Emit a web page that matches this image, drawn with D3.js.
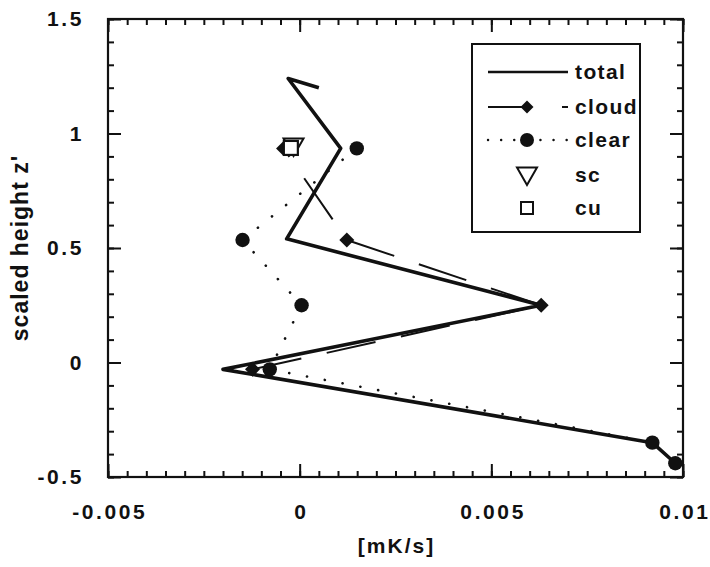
<!DOCTYPE html>
<html><head><meta charset="utf-8">
<script src="https://cdn.jsdelivr.net/npm/d3@7"></script>
<style>
body{margin:0;background:#fff;}
text{font-family:"Liberation Sans",Arial,Helvetica,sans-serif;font-weight:bold;fill:#111;}
</style></head>
<body><svg id="c" width="710" height="567"></svg>
<script>
// ---- data ----
const totalX = [0.0005, -0.0003, 0.00107, -0.00034, 0.0063, -0.0020, 0.0092, 0.0098];
const totalZ = [1.20, 1.24, 0.935, 0.54, 0.25, -0.03, -0.35, -0.44];
const cloudX = [-0.00042, 0.00123, 0.0063, -0.00123];
const cloudZ = [0.935, 0.535, 0.25, -0.03];
const clearX = [0.00149, -0.00149, 0.00005, -0.00078, 0.0092, 0.0098];
const clearZ = [0.935, 0.535, 0.25, -0.03, -0.35, -0.44];
const scX = [-0.00016];
const scZ = [0.945];
const cuX = [-0.00023];
const cuZ = [0.937];
const xTicks = [-0.005, 0, 0.005, 0.01];
const xTickLabels = ["-0.005", "0", "0.005", "0.01"];
const yTicks = [-0.5, 0, 0.5, 1, 1.5];
const yTickLabels = ["-0.5", "0", "0.5", "1", "1.5"];
const legendLabels = ["total", "cloud", "clear", "sc", "cu"];

const svg = d3.select("#c");
const L = 108, R = 683, T = 19, B = 477;
const x = d3.scaleLinear().domain([-0.005, 0.01]).range([L, R]);
const y = d3.scaleLinear().domain([-0.5, 1.5]).range([B, T]);

const xMinor = d3.range(-0.005, 0.01 + 1e-9, 0.0005).map(v => +v.toFixed(5));
const yMinor = d3.range(-0.5, 1.5 + 1e-9, 0.1).map(v => +v.toFixed(2));

function axisG(gen, tr) {
  const g = svg.append("g").attr("transform", tr).call(gen);
  g.select(".domain").remove();
  g.selectAll("line").attr("stroke", "#111").attr("stroke-width", 2);
  return g;
}
// minor ticks
axisG(d3.axisBottom(x).tickValues(xMinor).tickSize(-6).tickFormat(""), `translate(0,${B})`);
axisG(d3.axisTop(x).tickValues(xMinor).tickSize(-6).tickFormat(""), `translate(0,${T})`);
axisG(d3.axisLeft(y).tickValues(yMinor).tickSize(-6).tickFormat(""), `translate(${L},0)`);
axisG(d3.axisRight(y).tickValues(yMinor).tickSize(-6).tickFormat(""), `translate(${R},0)`);
// major ticks
const gxb = axisG(d3.axisBottom(x).tickValues(xTicks).tickSize(-13).tickPadding(27)
  .tickFormat((d, i) => xTickLabels[i]), `translate(0,${B})`);
axisG(d3.axisTop(x).tickValues(xTicks).tickSize(-13).tickFormat(""), `translate(0,${T})`);
const gyl = axisG(d3.axisLeft(y).tickValues(yTicks).tickSize(-13).tickPadding(24)
  .tickFormat((d, i) => yTickLabels[i]), `translate(${L},0)`);
axisG(d3.axisRight(y).tickValues(yTicks).tickSize(-13).tickFormat(""), `translate(${R},0)`);
[gxb, gyl].forEach(g => g.selectAll("text").attr("font-size", 21).attr("letter-spacing", 2.6)
  .style("font-family", "'Liberation Sans',Arial,sans-serif").attr("fill", "#111"));
gxb.selectAll("text").attr("dx", 1.3);

svg.append("rect").attr("x", L).attr("y", T).attr("width", R - L).attr("height", B - T)
  .attr("fill", "none").attr("stroke", "#111").attr("stroke-width", 2.2);

// axis titles
svg.append("text").attr("x", (L + R) / 2 + 1).attr("y", 553).attr("text-anchor", "middle")
  .attr("font-size", 21).attr("letter-spacing", 2).text("[mK/s]");
svg.append("text").attr("transform", `translate(28,${(T + B) / 2}) rotate(-90)`)
  .attr("text-anchor", "middle").attr("font-size", 23).attr("letter-spacing", 1).text("scaled height z'");

const line = d3.line().x(d => x(d[0])).y(d => y(d[1]));
const zip = (a, b) => a.map((v, i) => [v, b[i]]);

// clear (dotted)
svg.append("path").attr("d", line(zip(clearX, clearZ))).attr("fill", "none")
  .attr("stroke", "#111").attr("stroke-width", 2.6).attr("stroke-linecap", "round")
  .attr("stroke-dasharray", "0.1,18");
// cloud (long dashed), drawn segment by segment: [from index, to index, dash offset]
const cloudSegs = [[3, 2, 0], [1, 2, 0], [1, 0, 51]];
cloudSegs.forEach(([a, b, off]) => {
  svg.append("path").attr("d", line([[cloudX[a], cloudZ[a]], [cloudX[b], cloudZ[b]]]))
    .attr("fill", "none").attr("stroke", "#111").attr("stroke-width", 2)
    .attr("stroke-dasharray", "50,26").attr("stroke-dashoffset", off);
});
// total
svg.append("path").attr("d", line(zip(totalX, totalZ))).attr("fill", "none")
  .attr("stroke", "#111").attr("stroke-width", 3.6).attr("stroke-linejoin", "round");

const diamond = s => `M0,${-s}L${s},0L0,${s}L${-s},0Z`;
svg.selectAll(".dia").data(zip(cloudX, cloudZ)).join("path")
  .attr("transform", d => `translate(${x(d[0])},${y(d[1])})`).attr("d", diamond(7.5)).attr("fill", "#111");
svg.selectAll(".clr").data(zip(clearX, clearZ)).join("circle")
  .attr("cx", d => x(d[0])).attr("cy", d => y(d[1])).attr("r", 7.2).attr("fill", "#111");
const tri = s => `M${-s},${-s * 0.75}L${s},${-s * 0.75}L0,${s * 1.0}Z`;
svg.selectAll(".sc").data(zip(scX, scZ)).join("path")
  .attr("transform", d => `translate(${x(d[0])},${y(d[1])})`).attr("d", tri(10))
  .attr("fill", "#fff").attr("stroke", "#111").attr("stroke-width", 2);
svg.selectAll(".cu").data(zip(cuX, cuZ)).join("rect")
  .attr("x", d => x(d[0]) - 7).attr("y", d => y(d[1]) - 7).attr("width", 14).attr("height", 14)
  .attr("fill", "#fff").attr("stroke", "#111").attr("stroke-width", 2.2);

// legend
const lg = svg.append("g");
lg.append("rect").attr("x", 472).attr("y", 44).attr("width", 168).attr("height", 188)
  .attr("fill", "#fff").attr("stroke", "#111").attr("stroke-width", 2);
const rowY = [72, 107, 140, 175, 208];
const lx0 = 488, lx1 = 568, mx = 527, tx = 575;
lg.append("line").attr("x1", lx0).attr("x2", lx1).attr("y1", rowY[0]).attr("y2", rowY[0])
  .attr("stroke", "#111").attr("stroke-width", 2.6);
lg.append("line").attr("x1", lx0).attr("x2", lx1).attr("y1", rowY[1]).attr("y2", rowY[1])
  .attr("stroke", "#111").attr("stroke-width", 2).attr("stroke-dasharray", "39,35,6,10");
lg.append("path").attr("transform", `translate(${mx},${rowY[1]})`).attr("d", diamond(6.5)).attr("fill", "#111");
lg.append("line").attr("x1", lx0).attr("x2", lx1).attr("y1", rowY[2]).attr("y2", rowY[2])
  .attr("stroke", "#111").attr("stroke-width", 2.4).attr("stroke-linecap", "round").attr("stroke-dasharray", "0.1,13");
lg.append("circle").attr("cx", mx).attr("cy", rowY[2]).attr("r", 7).attr("fill", "#111");
lg.append("path").attr("transform", `translate(${mx},${rowY[3]})`).attr("d", tri(10))
  .attr("fill", "#fff").attr("stroke", "#111").attr("stroke-width", 2);
lg.append("rect").attr("x", mx - 6).attr("y", rowY[4] - 6).attr("width", 12).attr("height", 12)
  .attr("fill", "#fff").attr("stroke", "#111").attr("stroke-width", 2);
lg.selectAll(".lt").data(legendLabels).join("text").attr("x", tx).attr("y", (d, i) => rowY[i] + 7)
  .attr("font-size", 21).attr("letter-spacing", 1.4).text(d => d);
</script></body></html>
